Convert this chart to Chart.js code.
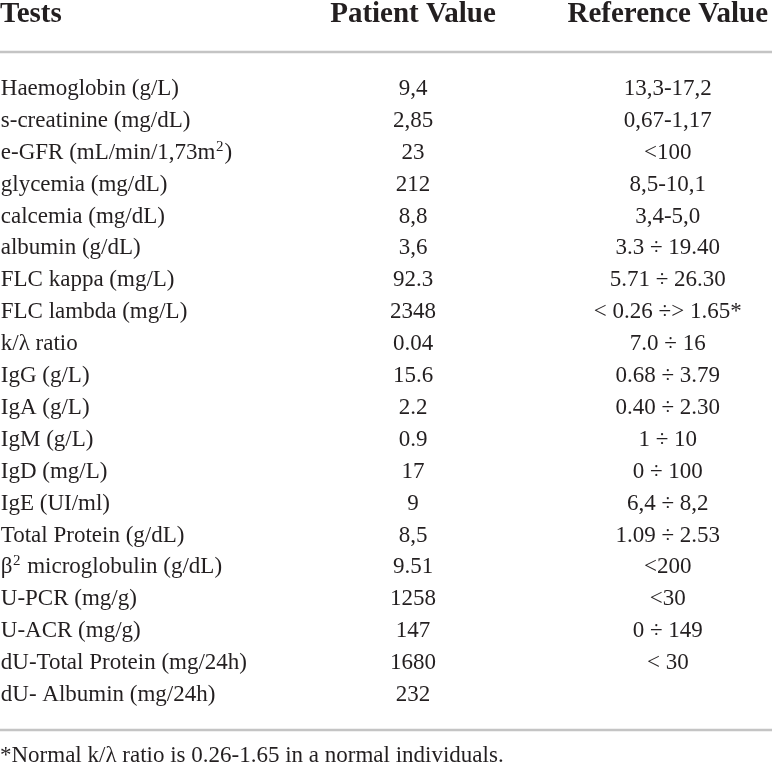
<!DOCTYPE html>
<html>
<head>
<meta charset="utf-8">
<script src="https://cdn.jsdelivr.net/npm/chart.js@4"></script>
<style>
  html, body { margin: 0; padding: 0; background: #ffffff; }
  #wrap { width: 772px; height: 764px; position: relative; }
</style>
</head>
<body>
<div id="wrap"><canvas id="tabla"></canvas></div>
<script>
const headers = ['Tests', 'Patient Value', 'Reference Value'];

const tests = [
  'Haemoglobin (g/L)', 's-creatinine (mg/dL)', 'e-GFR (mL/min/1,73m²)', 'glycemia (mg/dL)',
  'calcemia (mg/dL)', 'albumin (g/dL)', 'FLC kappa (mg/L)', 'FLC lambda (mg/L)',
  'k/λ ratio', 'IgG (g/L)', 'IgA (g/L)', 'IgM (g/L)', 'IgD (mg/L)', 'IgE (UI/ml)',
  'Total Protein (g/dL)', 'β² microglobulin (g/dL)', 'U-PCR (mg/g)', 'U-ACR (mg/g)',
  'dU-Total Protein (mg/24h)', 'dU- Albumin (mg/24h)'
];

const patientValues = [
  '9,4', '2,85', '23', '212', '8,8', '3,6', '92.3', '2348', '0.04', '15.6',
  '2.2', '0.9', '17', '9', '8,5', '9.51', '1258', '147', '1680', '232'
];

const referenceValues = [
  '13,3-17,2', '0,67-1,17', '<100', '8,5-10,1', '3,4-5,0', '3.3 ÷ 19.40',
  '5.71 ÷ 26.30', '< 0.26 ÷> 1.65*', '7.0 ÷ 16', '0.68 ÷ 3.79', '0.40 ÷ 2.30',
  '1 ÷ 10', '0 ÷ 100', '6,4 ÷ 8,2', '1.09 ÷ 2.53', '<200', '<30', '0 ÷ 149',
  '< 30', ''
];

const footnote = '*Normal k/λ ratio is 0.26-1.65 in a normal individuals.';

// posiciones de columna en unidades del eje x (0..100)
const colTests = 0.1;
const colPatient = 53.5;
const colReference = 86.5;

const colorTexto = '#231f20';
const familia = '"Liberation Serif", "DejaVu Serif", serif';
const fuenteCuerpo = '23px ' + familia;
const fuenteSup = '15px ' + familia;
const fuenteCabecera = 'bold 29px ' + familia;

// texto alineado a la izquierda, con el "²" dibujado como superindice
function textoConSup(ctx, txt, x, y) {
  const partes = txt.split('²');
  let cx = x;
  partes.forEach((p, i) => {
    ctx.font = fuenteCuerpo;
    ctx.fillText(p, cx, y);
    cx += ctx.measureText(p).width;
    if (i < partes.length - 1) {
      ctx.font = fuenteSup;
      ctx.fillText('2', cx + 0.5, y - 8);
      cx += ctx.measureText('2').width + 1.5;
    }
  });
  ctx.font = fuenteCuerpo;
}

const dibujarTabla = {
  id: 'dibujarTabla',
  afterDatasetsDraw(chart) {
    const ctx = chart.ctx;
    const area = chart.chartArea;
    const x = chart.scales.x;
    ctx.save();
    ctx.fillStyle = colorTexto;
    ctx.textBaseline = 'alphabetic';

    // celdas: una por punto de cada serie
    chart.data.datasets.forEach((ds, di) => {
      const meta = chart.getDatasetMeta(di);
      ctx.font = fuenteCuerpo;
      ctx.textAlign = ds.alinear;
      meta.data.forEach((pt, i) => {
        const txt = ds.textos[i];
        if (!txt) return;
        if (ds.alinear === 'left') {
          textoConSup(ctx, txt, pt.x, pt.y + 7);
        } else {
          ctx.fillText(txt, pt.x, pt.y + 7);
        }
      });
    });

    // cabecera
    ctx.font = fuenteCabecera;
    ctx.textAlign = 'left';
    ctx.fillText(headers[0], x.getPixelForValue(0), area.top - 50);
    ctx.textAlign = 'center';
    ctx.fillText(headers[1], x.getPixelForValue(colPatient), area.top - 50);
    ctx.fillText(headers[2], x.getPixelForValue(colReference), area.top - 50);

    // reglas
    ctx.strokeStyle = '#c4c4c4';
    ctx.lineWidth = 2.5;
    ctx.beginPath();
    ctx.moveTo(area.left, area.top - 20);
    ctx.lineTo(area.right, area.top - 20);
    ctx.moveTo(area.left, area.bottom + 20);
    ctx.lineTo(area.right, area.bottom + 20);
    ctx.stroke();

    // nota al pie
    ctx.font = fuenteCuerpo;
    ctx.textAlign = 'left';
    ctx.fillText(footnote, x.getPixelForValue(0), area.bottom + 52);
    ctx.restore();
  }
};

const puntos = (col) => tests.map((t) => ({ x: col, y: t }));

new Chart(document.getElementById('tabla').getContext('2d'), {
  type: 'scatter',
  data: {
    datasets: [
      { label: headers[0], data: puntos(colTests), textos: tests, alinear: 'left', pointRadius: 0 },
      { label: headers[1], data: puntos(colPatient), textos: patientValues, alinear: 'center', pointRadius: 0 },
      { label: headers[2], data: puntos(colReference), textos: referenceValues, alinear: 'center', pointRadius: 0 },
    ],
  },
  options: {
    responsive: true,
    maintainAspectRatio: false,
    animation: false,
    layout: { padding: { top: 72, bottom: 54, left: 0, right: 0 } },
    plugins: { legend: { display: false }, tooltip: { enabled: false } },
    scales: {
      x: { type: 'linear', min: 0, max: 100, display: false },
      y: { type: 'category', labels: tests, offset: true, display: false },
    },
  },
  plugins: [dibujarTabla],
});
</script>
</body>
</html>
